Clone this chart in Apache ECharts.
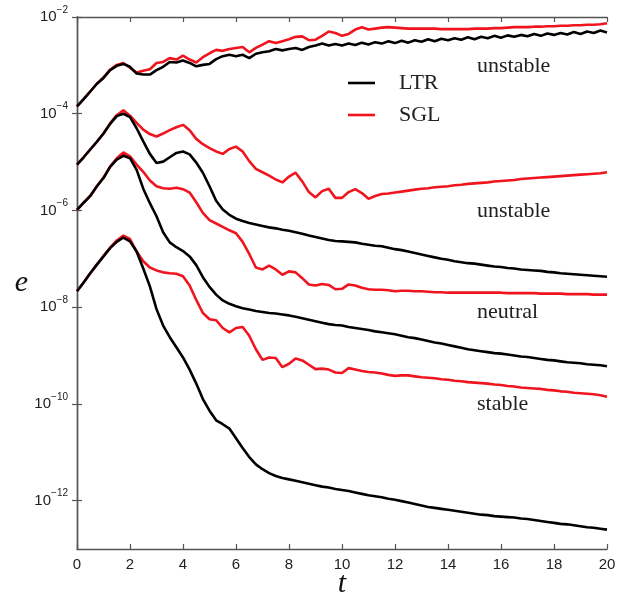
<!DOCTYPE html>
<html>
<head>
<meta charset="utf-8">
<script src="https://cdn.jsdelivr.net/npm/echarts@6/dist/echarts.min.js"></script>
<style>
  html, body { margin: 0; padding: 0; background: #fff; }
  #chart { width: 626px; height: 594px; }
</style>
</head>
<body>
<div id="chart"></div>
<script>
// time samples (every 0.25)
const t = [
  0, 0.25, 0.5, 0.75, 1, 1.25, 1.5, 1.75, 2, 2.25, 2.5, 2.75, 3, 3.25, 3.5, 3.75,
  4, 4.25, 4.5, 4.75, 5, 5.25, 5.5, 5.75, 6, 6.25, 6.5, 6.75, 7, 7.25, 7.5, 7.75,
  8, 8.25, 8.5, 8.75, 9, 9.25, 9.5, 9.75, 10, 10.25, 10.5, 10.75, 11, 11.25, 11.5, 11.75,
  12, 12.25, 12.5, 12.75, 13, 13.25, 13.5, 13.75, 14, 14.25, 14.5, 14.75, 15, 15.25, 15.5, 15.75,
  16, 16.25, 16.5, 16.75, 17, 17.25, 17.5, 17.75, 18, 18.25, 18.5, 18.75, 19, 19.25, 19.5, 19.75,
  20
];

// log10(e), 8 values per row (t = 0..1.75, 2..3.75, ...)
const ltrUnstableTop = [
  -3.85, -3.70, -3.54, -3.38, -3.26, -3.10, -3.01, -2.97,
  -3.03, -3.17, -3.19, -3.19, -3.10, -3.03, -2.93, -2.94,
  -2.90, -2.95, -3.02, -2.99, -2.97, -2.87, -2.81, -2.78,
  -2.81, -2.78, -2.85, -2.76, -2.73, -2.71, -2.66, -2.69,
  -2.66, -2.64, -2.68, -2.62, -2.59, -2.55, -2.59, -2.56,
  -2.59, -2.55, -2.58, -2.53, -2.57, -2.52, -2.55, -2.50,
  -2.54, -2.49, -2.53, -2.48, -2.51, -2.46, -2.50, -2.45,
  -2.48, -2.44, -2.47, -2.42, -2.46, -2.41, -2.44, -2.39,
  -2.43, -2.38, -2.41, -2.37, -2.40, -2.35, -2.39, -2.34,
  -2.37, -2.33, -2.36, -2.31, -2.35, -2.30, -2.33, -2.28,
  -2.32
];
const sglUnstableTop = [
  -3.85, -3.70, -3.54, -3.38, -3.25, -3.09, -2.99, -2.95,
  -3.05, -3.15, -3.11, -3.08, -2.95, -2.93, -2.85, -2.88,
  -2.80, -2.88, -2.94, -2.83, -2.75, -2.68, -2.70, -2.66,
  -2.64, -2.62, -2.73, -2.64, -2.57, -2.50, -2.54, -2.50,
  -2.46, -2.41, -2.40, -2.48, -2.47, -2.39, -2.30, -2.33,
  -2.39, -2.35, -2.26, -2.21, -2.26, -2.24, -2.22, -2.21,
  -2.22, -2.23, -2.24, -2.24, -2.24, -2.24, -2.24, -2.25,
  -2.25, -2.25, -2.25, -2.25, -2.24, -2.24, -2.24, -2.23,
  -2.23, -2.22, -2.21, -2.21, -2.21, -2.20, -2.20, -2.19,
  -2.19, -2.18, -2.18, -2.17, -2.17, -2.16, -2.16, -2.15,
  -2.13
];
const ltrUnstable = [
  -5.05, -4.90, -4.74, -4.58, -4.41, -4.21, -4.05, -4.00,
  -4.07, -4.30, -4.57, -4.83, -5.02, -4.99, -4.90, -4.81,
  -4.78, -4.84, -5.01, -5.22, -5.50, -5.80, -5.98, -6.09,
  -6.17, -6.22, -6.26, -6.29, -6.32, -6.35, -6.37, -6.40,
  -6.42, -6.45, -6.48, -6.52, -6.55, -6.58, -6.61, -6.63,
  -6.64, -6.65, -6.66, -6.69, -6.71, -6.73, -6.74, -6.77,
  -6.80, -6.82, -6.85, -6.88, -6.91, -6.94, -6.97, -7.00,
  -7.02, -7.05, -7.07, -7.09, -7.10, -7.12, -7.14, -7.16,
  -7.17, -7.19, -7.20, -7.22, -7.23, -7.24, -7.25, -7.27,
  -7.28, -7.30, -7.31, -7.32, -7.33, -7.34, -7.35, -7.36,
  -7.37
];
const sglUnstable = [
  -5.05, -4.90, -4.74, -4.58, -4.41, -4.20, -4.03, -3.93,
  -4.04, -4.19, -4.33, -4.42, -4.47, -4.41, -4.34, -4.28,
  -4.23, -4.34, -4.52, -4.63, -4.71, -4.78, -4.83, -4.73,
  -4.68, -4.78, -4.98, -5.14, -5.21, -5.28, -5.36, -5.42,
  -5.30, -5.22, -5.40, -5.62, -5.73, -5.60, -5.55, -5.74,
  -5.74, -5.62, -5.56, -5.64, -5.76, -5.70, -5.66, -5.65,
  -5.63, -5.61, -5.59, -5.57, -5.55, -5.54, -5.52, -5.51,
  -5.50, -5.48, -5.47, -5.45, -5.44, -5.43, -5.42, -5.40,
  -5.39, -5.38, -5.37, -5.35, -5.34, -5.33, -5.32, -5.31,
  -5.30, -5.29, -5.28, -5.27, -5.26, -5.25, -5.24, -5.23,
  -5.21
];
const ltrNeutral = [
  -5.99, -5.84, -5.70, -5.50, -5.33, -5.10, -4.95, -4.87,
  -4.92, -5.16, -5.55, -5.85, -6.12, -6.45, -6.66, -6.76,
  -6.84, -6.95, -7.13, -7.38, -7.58, -7.74, -7.86, -7.93,
  -7.98, -8.02, -8.05, -8.08, -8.10, -8.12, -8.13, -8.15,
  -8.17, -8.20, -8.23, -8.26, -8.29, -8.32, -8.35, -8.37,
  -8.38, -8.41, -8.43, -8.45, -8.47, -8.50, -8.52, -8.54,
  -8.56, -8.59, -8.62, -8.64, -8.67, -8.70, -8.73, -8.75,
  -8.78, -8.81, -8.84, -8.87, -8.89, -8.91, -8.93, -8.95,
  -8.96, -8.98, -9.00, -9.02, -9.03, -9.05, -9.07, -9.09,
  -9.10, -9.12, -9.14, -9.15, -9.16, -9.18, -9.19, -9.20,
  -9.22
];
const sglNeutral = [
  -5.99, -5.84, -5.70, -5.50, -5.32, -5.09, -4.92, -4.80,
  -4.88, -5.05, -5.20, -5.38, -5.50, -5.54, -5.55, -5.53,
  -5.56, -5.63, -5.83, -6.05, -6.20, -6.27, -6.34, -6.41,
  -6.47, -6.65, -6.90, -7.18, -7.22, -7.14, -7.22, -7.33,
  -7.26, -7.28, -7.40, -7.53, -7.55, -7.52, -7.54, -7.63,
  -7.62, -7.53, -7.55, -7.60, -7.63, -7.64, -7.64, -7.65,
  -7.67, -7.66, -7.66, -7.67, -7.67, -7.68, -7.69, -7.69,
  -7.70, -7.70, -7.70, -7.70, -7.70, -7.70, -7.70, -7.70,
  -7.70, -7.71, -7.71, -7.71, -7.71, -7.71, -7.72, -7.72,
  -7.72, -7.72, -7.73, -7.73, -7.73, -7.73, -7.74, -7.74,
  -7.74
];
const ltrStable = [
  -7.67, -7.49, -7.30, -7.12, -6.95, -6.78, -6.65, -6.56,
  -6.64, -6.85, -7.20, -7.57, -8.04, -8.38, -8.62, -8.83,
  -9.04, -9.29, -9.58, -9.90, -10.14, -10.34, -10.42, -10.51,
  -10.71, -10.91, -11.10, -11.25, -11.35, -11.43, -11.49, -11.53,
  -11.56, -11.59, -11.62, -11.65, -11.68, -11.71, -11.73, -11.76,
  -11.78, -11.80, -11.83, -11.86, -11.89, -11.91, -11.93, -11.96,
  -11.98, -12.01, -12.04, -12.07, -12.10, -12.13, -12.15, -12.17,
  -12.19, -12.21, -12.23, -12.25, -12.27, -12.29, -12.30, -12.32,
  -12.33, -12.34, -12.35, -12.37, -12.38, -12.40, -12.42, -12.44,
  -12.46, -12.48, -12.49, -12.51, -12.53, -12.55, -12.56, -12.58,
  -12.60
];
const sglStable = [
  -7.67, -7.49, -7.30, -7.12, -6.94, -6.77, -6.62, -6.52,
  -6.59, -6.85, -7.05, -7.18, -7.24, -7.28, -7.30, -7.31,
  -7.36, -7.55, -7.85, -8.12, -8.25, -8.27, -8.43, -8.52,
  -8.43, -8.41, -8.59, -8.87, -9.09, -9.04, -9.05, -9.24,
  -9.17, -9.06, -9.10, -9.19, -9.28, -9.27, -9.29, -9.35,
  -9.36, -9.26, -9.29, -9.32, -9.34, -9.35, -9.37, -9.40,
  -9.42, -9.41, -9.41, -9.43, -9.45, -9.46, -9.47, -9.49,
  -9.50, -9.52, -9.53, -9.55, -9.56, -9.57, -9.58, -9.60,
  -9.61, -9.63, -9.64, -9.66, -9.67, -9.68, -9.69, -9.71,
  -9.72, -9.74, -9.75, -9.77, -9.78, -9.79, -9.80, -9.82,
  -9.85
];

const yTickValues = [1e-12, 1e-10, 1e-8, 1e-6, 1e-4, 1e-2];

const annotations = [
  { text: 'unstable', x: 477, y: 66 },
  { text: 'unstable', x: 477, y: 211 },
  { text: 'neutral', x: 477, y: 312 },
  { text: 'stable', x: 477, y: 404 }
];

const RED = '#f0141e';
const BLACK = '#000000';
const AXIS_COLOR = '#555555';

function toPoints(logVals) {
  return t.map((x, i) => [x, Math.pow(10, logVals[i])]);
}

function makeSeries(name, color, logVals) {
  return {
    name: name,
    type: 'line',
    symbol: 'none',
    showSymbol: false,
    lineStyle: { width: 2.6, color: color },
    itemStyle: { color: color },
    data: toPoints(logVals)
  };
}

const axisLine = { show: true, lineStyle: { color: AXIS_COLOR, width: 1.4 } };
const tickStyle = { inside: true, length: 5, lineStyle: { color: AXIS_COLOR, width: 1.2 } };

const chart = echarts.init(document.getElementById('chart'));

chart.setOption({
  animation: false,
  backgroundColor: '#fff',
  grid: { left: 77, right: 19, top: 17, bottom: 45, outerBoundsMode: 'none' },
  legend: {
    data: ['LTR', 'SGL'],
    orient: 'vertical',
    left: 343,
    top: 67,
    icon: 'rect',
    itemWidth: 27,
    itemHeight: 2.6,
    itemGap: 10,
    textStyle: {
      fontFamily: 'Liberation Serif',
      fontSize: 22,
      color: '#222',
      padding: [0, 0, 0, 19]
    }
  },
  xAxis: [
    {
      type: 'value', min: 0, max: 20, interval: 2, position: 'bottom',
      name: 't', nameLocation: 'middle', nameGap: 20, nameMoveOverlap: false,
      nameTextStyle: { fontFamily: 'Liberation Serif', fontStyle: 'italic', fontSize: 30, color: '#111' },
      axisLine: axisLine, axisTick: tickStyle,
      axisLabel: { fontFamily: 'Liberation Sans', fontSize: 15, color: '#222', margin: 8 },
      splitLine: { show: false }
    },
    {
      type: 'value', min: 0, max: 20, interval: 2, position: 'top',
      axisLine: axisLine, axisTick: tickStyle,
      axisLabel: { show: false }, splitLine: { show: false }
    }
  ],
  yAxis: [
    {
      type: 'log', logBase: 10, min: 1e-13, max: 1e-2, position: 'left',
      name: 'e', nameLocation: 'middle', nameRotate: 0, nameGap: 49, nameMoveOverlap: false,
      nameTextStyle: { fontFamily: 'Liberation Serif', fontStyle: 'italic', fontSize: 30, color: '#111' },
      axisLine: axisLine,
      axisTick: Object.assign({ customValues: yTickValues }, tickStyle),
      axisLabel: {
        customValues: yTickValues,
        margin: 9,
        formatter: function (v) {
          const p = Math.round(Math.log10(v));
          return '{b|10}{s|\u2212' + (-p) + '}';
        },
        rich: {
          b: { fontFamily: 'Liberation Sans', fontSize: 15, color: '#222', lineHeight: 24 },
          s: { fontFamily: 'Liberation Sans', fontSize: 10, color: '#222', lineHeight: 11, verticalAlign: 'top' }
        }
      },
      splitLine: { show: false }, minorTick: { show: false }
    },
    {
      type: 'log', logBase: 10, min: 1e-13, max: 1e-2, position: 'right',
      axisLine: axisLine,
      axisTick: Object.assign({ customValues: yTickValues }, tickStyle),
      axisLabel: { show: false }, splitLine: { show: false }
    }
  ],
  graphic: annotations.map(a => ({
    type: 'text',
    x: a.x,
    y: a.y,
    style: {
      text: a.text,
      font: '22px "Liberation Serif"',
      fill: '#222',
      verticalAlign: 'middle'
    }
  })),
  series: [
    makeSeries('SGL', RED, sglUnstableTop),
    makeSeries('SGL', RED, sglUnstable),
    makeSeries('SGL', RED, sglNeutral),
    makeSeries('SGL', RED, sglStable),
    makeSeries('LTR', BLACK, ltrUnstableTop),
    makeSeries('LTR', BLACK, ltrUnstable),
    makeSeries('LTR', BLACK, ltrNeutral),
    makeSeries('LTR', BLACK, ltrStable)
  ]
});
</script>
</body>
</html>
